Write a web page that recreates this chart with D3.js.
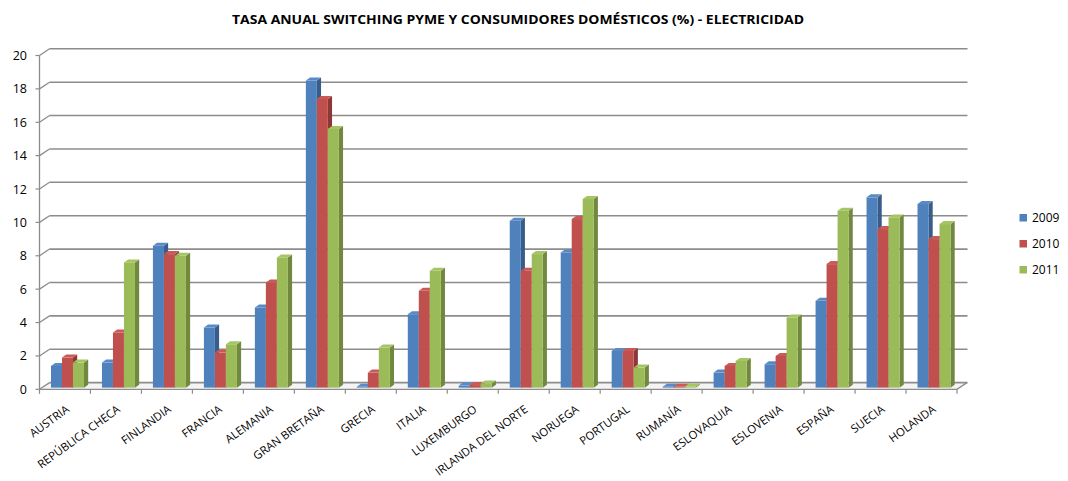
<!DOCTYPE html>
<html><head><meta charset="utf-8">
<script src="https://cdn.jsdelivr.net/npm/d3@7"></script>
<style>body{margin:0;background:#fff}svg{display:block}</style>
</head><body>
<svg id="c" width="1068" height="481"></svg>
<script>
const title = "TASA ANUAL SWITCHING PYME Y CONSUMIDORES DOMÉSTICOS (%) - ELECTRICIDAD";
const categories = ["AUSTRIA","REPÚBLICA CHECA","FINLANDIA","FRANCIA","ALEMANIA","GRAN BRETAÑA","GRECIA","ITALIA","LUXEMBURGO","IRLANDA DEL NORTE","NORUEGA","PORTUGAL","RUMANÍA","ESLOVAQUIA","ESLOVENIA","ESPAÑA","SUECIA","HOLANDA"];
const seriesNames = ["2009","2010","2011"];
const v2009 = [1.3,1.5,8.5,3.6,4.8,18.4,0.05,4.4,0.12,10.0,8.1,2.2,0.05,0.9,1.4,5.2,11.4,11.0];
const v2010 = [1.8,3.3,8.0,2.1,6.3,17.3,0.9,5.8,0.15,7.0,10.1,2.2,0.05,1.3,1.9,7.4,9.5,8.9];
const v2011 = [1.5,7.5,7.9,2.6,7.8,15.5,2.4,7.0,0.25,8.0,11.3,1.2,0.05,1.6,4.2,10.6,10.2,9.8];
const yTicks = [0,2,4,6,8,10,12,14,16,18,20];
const colors = ["#4F81BD","#C0504D","#9BBB59"];
const sideColors = ["#385D8A","#8C3836","#71893F"];
const topColors = ["#5A8AC6","#C95A57","#A5C463"];

const series = [v2009, v2010, v2011];
const svg = d3.select("#c");
const font = "'Open Sans', 'Liberation Sans', sans-serif";

// geometry
const left = 39.5, right = 957, front0 = 389.3;
const wallDX = 10, wallDY = -6.7;
const x = d3.scaleBand().domain(categories).range([left, right]).paddingInner(0).paddingOuter(0);
const yFront = d3.scaleLinear().domain([0,20]).range([front0, front0 - 333.8]);
const yBack = v => yFront(v) + wallDY;
const t = 0.25; // bar depth position
const barDX = 4.2, barDY = -3;
const yBar = v => yFront(v) + wallDY * t;
const xs = d3.scaleBand().domain(seriesNames).range([0, 33]).padding(0);

// title
svg.append("text").attr("x", 518).attr("y", 24).attr("text-anchor","middle")
  .attr("font-family", font).attr("font-weight","bold").attr("font-size", 13)
  .attr("textLength", 572).attr("lengthAdjust","spacingAndGlyphs")
  .attr("fill","#000").text(title);

// floor
svg.append("path").attr("d", `M${left},${front0}L${right},${front0}L${right+wallDX},${front0+wallDY}L${left+wallDX},${front0+wallDY}Z`)
  .attr("fill","#f4f4f4").attr("stroke","none");

// gridlines on back wall
const g = svg.append("g");
yTicks.forEach(v => {
  g.append("line").attr("x1", left + wallDX).attr("x2", right + wallDX + 0.5)
    .attr("y1", yBack(v)).attr("y2", yBack(v)).attr("stroke","#8c8c8c").attr("stroke-width",1.6);
  g.append("line").attr("x1", left).attr("y1", yFront(v)).attr("x2", left + wallDX).attr("y2", yBack(v))
    .attr("stroke","#8c8c8c").attr("stroke-width",1.3);
  g.append("line").attr("x1", left - 4).attr("x2", left).attr("y1", yFront(v)).attr("y2", yFront(v))
    .attr("stroke","#8c8c8c").attr("stroke-width",1.2);
});
// vertical axis line
svg.append("line").attr("x1", left).attr("x2", left).attr("y1", yFront(0)).attr("y2", yFront(20))
  .attr("stroke","#8c8c8c").attr("stroke-width",1.3);
// front axis + right floor edge
svg.append("path").attr("d", `M${left},${front0}L${right},${front0}L${right+wallDX},${front0+wallDY}`)
  .attr("fill","none").attr("stroke","#8c8c8c").attr("stroke-width",1.3);
// category ticks
const tickPos = categories.map(c => x(c)).concat([right]);
tickPos.forEach(p => {
  svg.append("line").attr("x1", p).attr("x2", p).attr("y1", front0).attr("y2", front0 + 4.5)
    .attr("stroke","#8c8c8c").attr("stroke-width",1.2);
});

// y labels
svg.append("g").selectAll("text").data(yTicks).join("text")
  .attr("x", 27).attr("y", d => yFront(d)).attr("dy","0.36em").attr("text-anchor","end")
  .attr("font-family", font).attr("font-size", 12.5).attr("fill","#000").text(d => d);

// bars
const bars = svg.append("g");
categories.forEach((c, i) => {
  seriesNames.forEach((s, j) => {
    const v = series[j][i];
    const x0 = x(c) + (x.bandwidth() - 33) / 2 + xs(s) + wallDX * t;
    const w = xs.bandwidth();
    const yb = yBar(0), yt = yBar(v);
    bars.append("path").attr("d", `M${x0+w},${yt}L${x0+w+barDX},${yt+barDY}L${x0+w+barDX},${yb+barDY}L${x0+w},${yb}Z`)
      .attr("fill", sideColors[j]);
    bars.append("rect").attr("x", x0).attr("y", yt).attr("width", w).attr("height", Math.max(0, yb - yt))
      .attr("fill", colors[j]);
    bars.append("path").attr("d", `M${x0},${yt}L${x0+w},${yt}L${x0+w+barDX},${yt+barDY}L${x0+barDX},${yt+barDY}Z`)
      .attr("fill", topColors[j]);
  });
});

// x labels
svg.append("g").selectAll("text").data(categories).join("text")
  .attr("transform", d => `translate(${x(d) + x.bandwidth()/2 + 5},${411}) rotate(-36)`)
  .attr("text-anchor","end")
  .attr("font-family", font).attr("font-size", 11.4).attr("fill","#000").text(d => d);

// legend
const lg = svg.append("g");
seriesNames.forEach((s, j) => {
  const yy = 218 + j * 26;
  lg.append("rect").attr("x", 1019.5).attr("y", yy - 4).attr("width", 7.5).attr("height", 7.5).attr("fill", colors[j]);
  lg.append("text").attr("x", 1032).attr("y", yy).attr("dy","0.36em")
    .attr("font-family", font).attr("font-size", 12).attr("fill","#000").text(s);
});
</script>
</body></html>
